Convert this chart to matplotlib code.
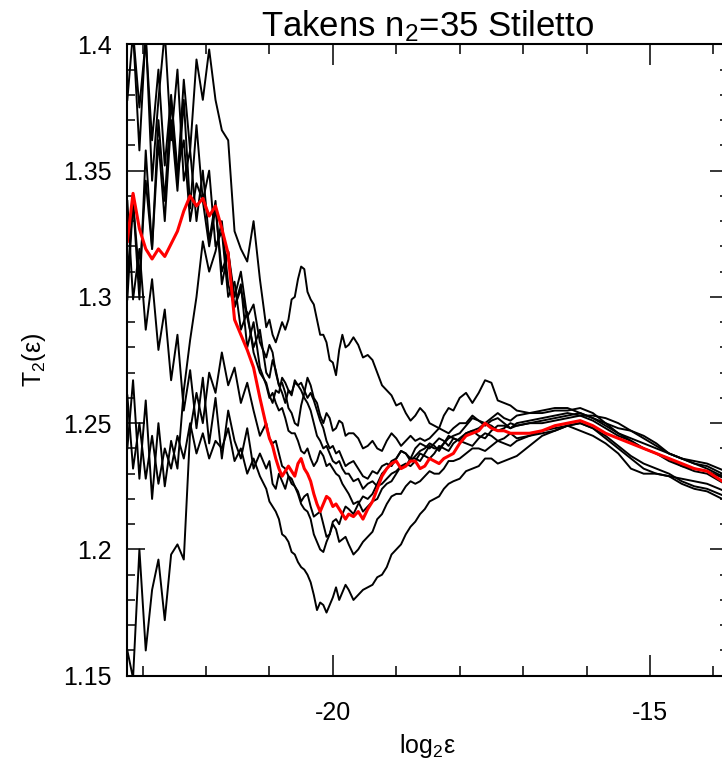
import matplotlib
matplotlib.use("Agg")
import matplotlib.pyplot as plt
from matplotlib.ticker import MultipleLocator, FormatStrFormatter

plt.rcParams['font.family'] = ['Liberation Sans', 'DejaVu Sans']
plt.rcParams['mathtext.fontset'] = 'custom'
plt.rcParams['mathtext.rm'] = 'Liberation Sans'
plt.rcParams['mathtext.it'] = 'Liberation Sans'
plt.rcParams['axes.unicode_minus'] = False

# log2(eps) sample positions
log_eps = [-23.24, -23.15, -23.05, -22.95, -22.85, -22.75, -22.65, -22.55, -22.45, -22.35,
           -22.25, -22.15, -22.05, -21.95, -21.85, -21.75, -21.65, -21.55, -21.45, -21.35,
           -21.25, -21.15,
           -21.05, -21.0, -20.95, -20.9, -20.85, -20.8, -20.75, -20.7, -20.65, -20.6,
           -20.55, -20.5, -20.45, -20.4, -20.35, -20.3, -20.25, -20.2, -20.15, -20.1,
           -20.05, -20.0, -19.95, -19.9, -19.85, -19.8, -19.75, -19.675, -19.6, -19.525,
           -19.45, -19.375, -19.3, -19.225, -19.15, -19.075, -19.0, -18.925, -18.85, -18.775,
           -18.7, -18.625, -18.55, -18.475, -18.4, -18.325, -18.25, -18.175, -18.1, -18.0,
           -17.9, -17.8, -17.7, -17.6, -17.5, -17.4, -17.3, -17.2, -17.1,
           -16.9, -16.7, -16.5, -16.3, -16.1, -15.9, -15.7, -15.5, -15.3, -15.1,
           -14.9, -14.7, -14.5, -14.3, -14.1, -13.86]

# individual realisations (black)
t2_a = [1.307, 1.338, 1.299, 1.358, 1.319, 1.370, 1.338, 1.378, 1.346, 1.386,
        1.358, 1.394, 1.378, 1.398, 1.378, 1.366, 1.362, 1.326, 1.319, 1.314,
        1.330, 1.307,
        1.288, 1.291, 1.285, 1.282, 1.286, 1.290, 1.287, 1.291, 1.299, 1.300,
        1.307, 1.312, 1.311, 1.302, 1.299, 1.297, 1.291, 1.285, 1.285, 1.282,
        1.275, 1.274, 1.269, 1.279, 1.285, 1.280, 1.281, 1.284, 1.281, 1.276,
        1.277, 1.275, 1.270, 1.265, 1.263, 1.261, 1.257, 1.258, 1.254, 1.251,
        1.253, 1.256, 1.254, 1.250, 1.249, 1.248, 1.253, 1.256, 1.255, 1.260,
        1.262, 1.258, 1.262, 1.267, 1.266, 1.259, 1.258, 1.257, 1.255,
        1.254, 1.255, 1.256, 1.256, 1.254, 1.252, 1.250, 1.248, 1.247, 1.245,
        1.242, 1.238, 1.236, 1.234, 1.233, 1.230]
t2_b = [1.261, 1.232, 1.250, 1.228, 1.245, 1.226, 1.240, 1.232, 1.245, 1.236,
        1.250, 1.238, 1.246, 1.236, 1.243, 1.240, 1.248, 1.235, 1.240, 1.230,
        1.236, 1.229,
        1.224, 1.219, 1.217, 1.215, 1.212, 1.206, 1.205, 1.203, 1.199, 1.198,
        1.195, 1.193, 1.192, 1.190, 1.187, 1.182, 1.176, 1.179, 1.178, 1.175,
        1.178, 1.181, 1.185, 1.180, 1.183, 1.186, 1.184, 1.180, 1.182, 1.184,
        1.185, 1.186, 1.189, 1.190, 1.193, 1.198, 1.200, 1.202, 1.206, 1.209,
        1.211, 1.214, 1.216, 1.219, 1.220, 1.221, 1.224, 1.226, 1.227, 1.228,
        1.231, 1.232, 1.233, 1.236, 1.236, 1.234, 1.235, 1.236, 1.237,
        1.241, 1.245, 1.247, 1.249, 1.247, 1.245, 1.242, 1.238, 1.232, 1.230,
        1.230, 1.229, 1.226, 1.224, 1.223, 1.220]
t2_c = [1.160, 1.149, 1.200, 1.160, 1.184, 1.196, 1.172, 1.198, 1.202, 1.196,
        1.247, 1.262, 1.250, 1.270, 1.262, 1.278, 1.265, 1.272, 1.258, 1.266,
        1.255, 1.245,
        1.250, 1.244, 1.242, 1.243, 1.238, 1.233, 1.232, 1.229, 1.226, 1.225,
        1.222, 1.218, 1.216, 1.215, 1.212, 1.206, 1.203, 1.200, 1.199, 1.203,
        1.206, 1.211, 1.212, 1.210, 1.214, 1.217, 1.216, 1.214, 1.218, 1.221,
        1.220, 1.222, 1.226, 1.230, 1.232, 1.235, 1.236, 1.239, 1.238, 1.235,
        1.237, 1.239, 1.240, 1.242, 1.241, 1.239, 1.242, 1.245, 1.244, 1.243,
        1.246, 1.247, 1.245, 1.244, 1.247, 1.249, 1.249, 1.248, 1.250,
        1.251, 1.252, 1.253, 1.254, 1.253, 1.251, 1.248, 1.245, 1.243, 1.240,
        1.238, 1.235, 1.233, 1.232, 1.231, 1.2285]
t2_d = [1.400, 1.405, 1.375, 1.402, 1.362, 1.390, 1.352, 1.380, 1.350, 1.362,
        1.330, 1.345, 1.338, 1.320, 1.335, 1.310, 1.318, 1.300, 1.310, 1.292,
        1.297, 1.282,
        1.276, 1.281, 1.278, 1.270, 1.265, 1.266, 1.262, 1.256, 1.254, 1.250,
        1.249, 1.257, 1.262, 1.268, 1.265, 1.260, 1.258, 1.253, 1.250, 1.254,
        1.252, 1.247, 1.248, 1.251, 1.250, 1.245, 1.246, 1.246, 1.244, 1.240,
        1.241, 1.243, 1.240, 1.239, 1.243, 1.246, 1.244, 1.241, 1.243, 1.245,
        1.243, 1.244, 1.243, 1.244, 1.246, 1.248, 1.247, 1.246, 1.248, 1.250,
        1.250, 1.253, 1.251, 1.250, 1.252, 1.254, 1.252, 1.251, 1.253,
        1.254, 1.254, 1.255, 1.255, 1.256, 1.254, 1.250, 1.246, 1.244, 1.242,
        1.240, 1.238, 1.236, 1.234, 1.232, 1.229]
t2_e = [1.338, 1.299, 1.319, 1.287, 1.307, 1.279, 1.295, 1.267, 1.285, 1.255,
        1.271, 1.248, 1.268, 1.242, 1.260, 1.236, 1.255, 1.243, 1.236, 1.248,
        1.232, 1.238,
        1.232, 1.235, 1.226, 1.224, 1.230, 1.227, 1.224, 1.229, 1.228, 1.225,
        1.223, 1.219, 1.221, 1.222, 1.217, 1.213, 1.214, 1.215, 1.210, 1.205,
        1.206, 1.210, 1.208, 1.203, 1.204, 1.205, 1.202, 1.198, 1.200, 1.203,
        1.205, 1.207, 1.212, 1.214, 1.218, 1.221, 1.222, 1.222, 1.225, 1.227,
        1.226, 1.227, 1.229, 1.231, 1.230, 1.230, 1.232, 1.235, 1.235, 1.236,
        1.238, 1.240, 1.240, 1.239, 1.241, 1.243, 1.242, 1.241, 1.243,
        1.245, 1.247, 1.248, 1.249, 1.250, 1.248, 1.245, 1.241, 1.237, 1.234,
        1.232, 1.230, 1.227, 1.225, 1.224, 1.2215]
t2_f = [1.378, 1.405, 1.358, 1.405, 1.346, 1.378, 1.405, 1.362, 1.390, 1.346,
        1.358, 1.330, 1.350, 1.322, 1.338, 1.305, 1.318, 1.296, 1.305, 1.280,
        1.290, 1.272,
        1.265, 1.260, 1.262, 1.258, 1.255, 1.256, 1.252, 1.247, 1.246, 1.246,
        1.243, 1.239, 1.238, 1.240, 1.236, 1.233, 1.235, 1.239, 1.237, 1.233,
        1.234, 1.232, 1.230, 1.229, 1.226, 1.224, 1.222, 1.218, 1.219, 1.215,
        1.217, 1.219, 1.220, 1.224, 1.226, 1.227, 1.230, 1.233, 1.233, 1.236,
        1.236, 1.235, 1.238, 1.241, 1.240, 1.240, 1.242, 1.244, 1.245, 1.246,
        1.249, 1.252, 1.251, 1.249, 1.251, 1.252, 1.250, 1.248, 1.249,
        1.250, 1.251, 1.252, 1.253, 1.254, 1.252, 1.249, 1.246, 1.243, 1.240,
        1.238, 1.236, 1.233, 1.231, 1.230, 1.2265]
t2_g = [1.240, 1.267, 1.228, 1.259, 1.220, 1.250, 1.225, 1.243, 1.232, 1.263,
        1.283, 1.300, 1.322, 1.310, 1.318, 1.330, 1.305, 1.296, 1.303, 1.292,
        1.280, 1.287,
        1.270, 1.268, 1.275, 1.271, 1.265, 1.262, 1.258, 1.263, 1.261, 1.267,
        1.265, 1.266, 1.263, 1.260, 1.262, 1.259, 1.255, 1.251, 1.248, 1.243,
        1.240, 1.241, 1.238, 1.239, 1.236, 1.233, 1.234, 1.235, 1.232, 1.229,
        1.228, 1.231, 1.230, 1.233, 1.234, 1.233, 1.236, 1.239, 1.238, 1.236,
        1.240, 1.242, 1.241, 1.240, 1.242, 1.244, 1.243, 1.241, 1.244, 1.243,
        1.242, 1.241, 1.244, 1.246, 1.245, 1.243, 1.244, 1.246, 1.244,
        1.245, 1.246, 1.247, 1.249, 1.250, 1.248, 1.244, 1.240, 1.236, 1.232,
        1.230, 1.229, 1.228, 1.227, 1.226, 1.2235]
t2_h = [1.299, 1.338, 1.307, 1.346, 1.319, 1.362, 1.330, 1.370, 1.342, 1.378,
        1.335, 1.368, 1.338, 1.350, 1.320, 1.326, 1.300, 1.306, 1.287, 1.294,
        1.278, 1.270,
        1.266, 1.261, 1.258, 1.263, 1.262, 1.268, 1.266, 1.263, 1.262, 1.266,
        1.265, 1.263, 1.260, 1.258, 1.255, 1.250, 1.245, 1.243, 1.240, 1.241,
        1.238, 1.235, 1.234, 1.235, 1.232, 1.230, 1.230, 1.227, 1.228, 1.224,
        1.226, 1.227, 1.225, 1.226, 1.228, 1.230, 1.231, 1.233, 1.234, 1.233,
        1.235, 1.238, 1.237, 1.236, 1.238, 1.241, 1.240, 1.239, 1.242, 1.244,
        1.246, 1.247, 1.248, 1.250, 1.249, 1.247, 1.248, 1.250, 1.249,
        1.250, 1.250, 1.251, 1.252, 1.253, 1.253, 1.252, 1.250, 1.247, 1.244,
        1.241, 1.238, 1.236, 1.235, 1.234, 1.2315]

# average (red)
t2_mean = [1.322, 1.341, 1.327, 1.319, 1.315, 1.319, 1.316, 1.321, 1.326, 1.334,
           1.340, 1.336, 1.339, 1.332, 1.336, 1.327, 1.317, 1.291, 1.285, 1.279,
           1.272, 1.260,
           1.249, 1.244, 1.241, 1.236, 1.232, 1.229, 1.231, 1.233, 1.231, 1.229,
           1.234, 1.236, 1.232, 1.230, 1.227, 1.222, 1.218, 1.215, 1.218, 1.221,
           1.220, 1.217, 1.218, 1.216, 1.214, 1.212, 1.214, 1.213, 1.215, 1.212,
           1.216, 1.219, 1.224, 1.229, 1.232, 1.234, 1.235, 1.232, 1.233, 1.235,
           1.235, 1.232, 1.233, 1.236, 1.235, 1.234, 1.236, 1.237, 1.238, 1.242,
           1.245, 1.246, 1.247, 1.250, 1.248, 1.247, 1.247, 1.246, 1.246,
           1.246, 1.247, 1.249, 1.250, 1.251, 1.249, 1.246, 1.244, 1.242, 1.240,
           1.238, 1.236, 1.234, 1.232, 1.231, 1.227]

runs = [t2_a, t2_b, t2_c, t2_d, t2_e, t2_f, t2_g, t2_h]

fig = plt.figure(figsize=(7.22, 7.67), dpi=100)
ax = fig.add_axes([0.1755, 0.119, 0.8328, 0.8232])

for run in runs:
    ax.plot(log_eps, run, color='black', lw=1.4)
ax.plot(log_eps, t2_mean, color='red', lw=2.2)

ax.set_xlim(-23.25, -13.77)
ax.set_ylim(1.15, 1.4)
ax.xaxis.set_major_locator(MultipleLocator(5))
ax.xaxis.set_minor_locator(MultipleLocator(1))
ax.yaxis.set_major_locator(MultipleLocator(0.05))
ax.yaxis.set_minor_locator(MultipleLocator(0.01))
ax.yaxis.set_major_formatter(FormatStrFormatter('%g'))
ax.xaxis.set_major_formatter(FormatStrFormatter('%g'))
ax.tick_params(which='both', direction='in', top=True, right=True, width=1.1, labelsize=18)
ax.tick_params(axis='x', which='major', length=15, pad=18)
ax.tick_params(axis='x', which='minor', length=7)
ax.tick_params(axis='y', which='major', length=13, pad=11)
ax.tick_params(axis='y', which='minor', length=6)
for s in ax.spines.values():
    s.set_linewidth(1.5)

ax.set_xlabel(r'log$_2$ε', fontsize=18, labelpad=5)
ax.set_ylabel(r'T$_2$(ε)', fontsize=18, labelpad=11)
ax.set_title(r'Takens n$_2$=35 Stiletto', fontsize=25, pad=4)

fig.savefig('out.png', dpi=100)
